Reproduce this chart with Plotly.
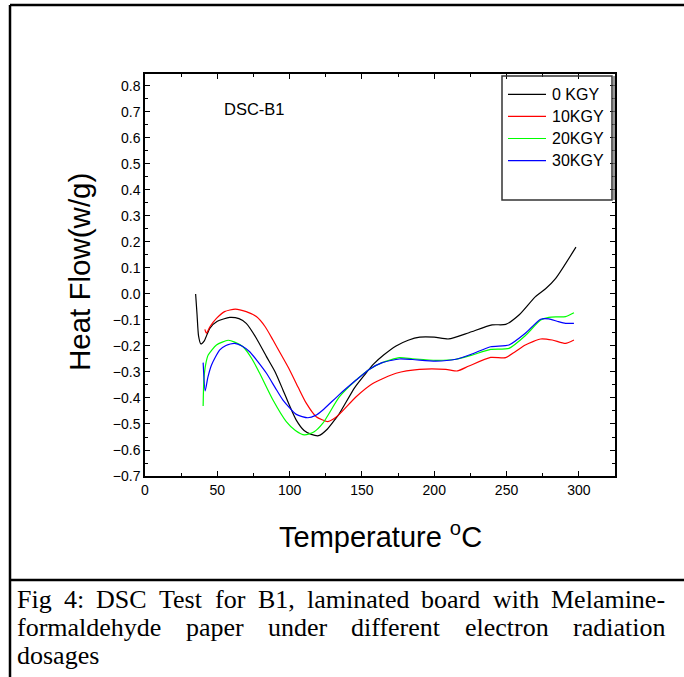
import plotly.graph_objects as go

# ---------------- data ----------------
series_names = ["0 KGY", "10KGY", "20KGY", "30KGY"]
series_colors = ["#000000", "#ff0000", "#00ff00", "#0000ff"]

temp_0 = [35, 36, 37, 38.6, 41, 44.8, 50, 58.6, 65, 70, 77, 84, 90, 95.4, 100, 104.6, 110, 115, 120,
          126, 132, 134.5, 145, 152, 158, 165, 173.6, 182, 190, 200, 210, 224, 240, 249.4, 258.6,
          270, 277, 284, 298]
flow_0 = [0.0, -0.08, -0.16, -0.192, -0.18, -0.132, -0.105, -0.09, -0.095, -0.113, -0.17, -0.241,
          -0.3, -0.369, -0.43, -0.485, -0.525, -0.54, -0.545, -0.52, -0.478, -0.459, -0.36, -0.31,
          -0.27, -0.235, -0.2, -0.178, -0.166, -0.166, -0.173, -0.149, -0.119, -0.117, -0.081,
          -0.01, 0.02, 0.06, 0.18]

temp_10 = [41.4, 42.5, 45, 49.4, 55, 62.5, 70, 77, 83, 88.5, 94, 100, 106, 111.5, 118.4, 126.4, 130,
           134.5, 146, 157.5, 173.6, 189.7, 208, 216, 224, 239, 249.4, 256, 263, 273.6, 281.6,
           290.8, 296.6]
flow_10 = [-0.136, -0.151, -0.125, -0.094, -0.068, -0.058, -0.068, -0.087, -0.125, -0.177, -0.232,
           -0.292, -0.36, -0.42, -0.472, -0.491, -0.482, -0.462, -0.395, -0.344, -0.305, -0.29,
           -0.29, -0.296, -0.277, -0.244, -0.245, -0.222, -0.196, -0.173, -0.177, -0.19, -0.177]

temp_20 = [40.2, 40.7, 42, 43.7, 49.4, 57.5, 62, 67.8, 74, 79.3, 88.5, 97.7, 104, 110.3, 117, 123,
           134.5, 146, 155, 164, 175.9, 185, 201, 215, 226, 239, 251.7, 263, 273.6, 279.3, 285,
           290.8, 296.6]
flow_20 = [-0.431, -0.331, -0.27, -0.235, -0.196, -0.178, -0.185, -0.203, -0.25, -0.305, -0.408,
           -0.491, -0.525, -0.542, -0.53, -0.497, -0.395, -0.331, -0.29, -0.264, -0.245, -0.249,
           -0.255, -0.251, -0.235, -0.213, -0.209, -0.16, -0.1, -0.09, -0.088, -0.087, -0.072]

temp_30 = [40.2, 41.6, 43.5, 46, 51.7, 56, 62, 67, 72.4, 78, 84, 90, 95.4, 104.6, 112.6, 118, 123,
           134.5, 146, 155, 164, 175.9, 185, 201, 215, 226, 239, 251.7, 263, 273.6, 279.3, 285,
           290.8, 296.6]
flow_30 = [-0.264, -0.373, -0.32, -0.273, -0.215, -0.198, -0.19, -0.2, -0.222, -0.26, -0.305, -0.36,
           -0.408, -0.463, -0.476, -0.467, -0.446, -0.386, -0.331, -0.29, -0.264, -0.25, -0.252,
           -0.258, -0.251, -0.231, -0.203, -0.196, -0.151, -0.097, -0.096, -0.105, -0.113, -0.113]

x_ticks = [0, 50, 100, 150, 200, 250, 300]
y_ticks = [-0.7, -0.6, -0.5, -0.4, -0.3, -0.2, -0.1, 0.0, 0.1, 0.2, 0.3, 0.4, 0.5, 0.6, 0.7, 0.8]

caption_lines = [
    "Fig 4: DSC Test for B1, laminated board with Melamine-",
    "formaldehyde paper under different electron radiation",
    "dosages",
]

# ---------------- layout geometry ----------------
W, H = 684, 677
L, R, T, B = 145, 615, 74, 476  # plot area in pixels


def px(x):
    return (x - L) / (R - L)


def py(y):
    return (B - y) / (B - T)


# Times / Liberation Serif advance widths (per 1000 em) for justification of the caption
SERIF_W = {"a": 444, "b": 500, "c": 444, "d": 500, "e": 444, "f": 333, "g": 500, "h": 500, "i": 278,
           "l": 278, "m": 778, "n": 500, "o": 500, "p": 500, "r": 333, "s": 389, "t": 278, "u": 500,
           "w": 722, "y": 500, "F": 556, "D": 722, "S": 556, "C": 667, "T": 611, "B": 667, "M": 889,
           "1": 500, "4": 500, ":": 278, ",": 250, "-": 333, " ": 250}


def word_width(w, size):
    return sum(SERIF_W.get(c, 500) for c in w) * size / 1000.0


fig = go.Figure()
all_t = [temp_0, temp_10, temp_20, temp_30]
all_f = [flow_0, flow_10, flow_20, flow_30]
for name, col, t, f in zip(series_names, series_colors, all_t, all_f):
    fig.add_trace(go.Scatter(x=t, y=f, mode="lines", name=name, showlegend=False,
                             line=dict(color=col, width=1.2, shape="spline", smoothing=0.6)))

axis_common = dict(showline=True, linecolor="black", linewidth=1.5, mirror="ticks",
                   ticks="inside", ticklen=5, tickwidth=1, tickcolor="black",
                   showgrid=False, zeroline=False,
                   tickfont=dict(family="Arial, Liberation Sans", size=14, color="black"))

fig.update_layout(
    width=W, height=H, autosize=False,
    margin=dict(l=L, r=W - R, t=T, b=H - B),
    paper_bgcolor="white", plot_bgcolor="white",
    xaxis=dict(range=[0, 325], tickvals=x_ticks,
               minor=dict(dtick=25, tick0=0, ticks="inside", ticklen=3, tickcolor="black"),
               **axis_common),
    yaxis=dict(range=[-0.7, 0.846], tickvals=y_ticks, tickformat=".1f",
               minor=dict(dtick=0.05, tick0=0, ticks="inside", ticklen=3, tickcolor="black"),
               **axis_common),
    showlegend=False,
)

shapes = []
ann = []
sans = "Arial, Liberation Sans"

# legend box (drawn like the original: box with key lines and labels)
shapes.append(dict(type="rect", xref="paper", yref="paper", x0=px(502), x1=px(612), y0=py(200), y1=py(76),
                   line=dict(color="#333333", width=1.5), fillcolor="rgba(0,0,0,0)"))
shapes.append(dict(type="line", xref="paper", yref="paper", x0=px(614), x1=px(614), y0=py(200), y1=py(76),
                   line=dict(color="#777777", width=1.5)))
for i, (name, col) in enumerate(zip(series_names, series_colors)):
    yy = 94.3 + 22.1 * i
    shapes.append(dict(type="line", xref="paper", yref="paper", x0=px(508), x1=px(546), y0=py(yy), y1=py(yy),
                       line=dict(color=col, width=1.2)))
    ann.append(dict(text=name, x=px(550), y=py(yy), xref="paper", yref="paper", xanchor="left",
                    yanchor="middle", showarrow=False, font=dict(family=sans, size=16, color="black")))

# outer frame
shapes.append(dict(type="line", xref="paper", yref="paper", x0=px(10), x1=px(10), y0=py(690), y1=py(5),
                   line=dict(color="black", width=2.5)))
shapes.append(dict(type="line", xref="paper", yref="paper", x0=px(10), x1=px(700), y0=py(5), y1=py(5),
                   line=dict(color="black", width=2.5)))
shapes.append(dict(type="line", xref="paper", yref="paper", x0=px(10), x1=px(700), y0=py(580), y1=py(580),
                   line=dict(color="black", width=2.5)))
fig.update_layout(shapes=shapes)

ann.append(dict(text="DSC-B1", x=px(222), y=py(109), xref="paper", yref="paper", xanchor="left",
                yanchor="middle", showarrow=False, font=dict(family=sans, size=16.5, color="black")))
ann.append(dict(text="Heat Flow(w/g)", x=px(79), y=py(272), xref="paper", yref="paper", textangle=-90,
                xanchor="center", yanchor="middle", showarrow=False,
                font=dict(family=sans, size=29.5, color="black")))
ann.append(dict(text="Temperature <sup>o</sup>C", x=px(380), y=py(535), xref="paper", yref="paper",
                xanchor="center", yanchor="middle", showarrow=False,
                font=dict(family=sans, size=29, color="black")))

# caption: justified lines (first two), last line left aligned
serif = "Liberation Serif, Times New Roman, serif"
cap_size = 26
cap_left, cap_right = 15, 663
line_y = [599, 627, 655]
for li, line in enumerate(caption_lines):
    words = line.split(" ")
    if li < len(caption_lines) - 1 and len(words) > 1:
        widths = [word_width(w, cap_size) for w in words]
        gap = (cap_right - cap_left - sum(widths)) / (len(words) - 1)
        xcur = cap_left
        for w, ww in zip(words, widths):
            ann.append(dict(text=w, x=px(xcur), y=py(line_y[li]), xref="paper", yref="paper",
                            xanchor="left", yanchor="middle", showarrow=False,
                            font=dict(family=serif, size=cap_size, color="black")))
            xcur += ww + gap
    else:
        ann.append(dict(text=line, x=px(cap_left), y=py(line_y[li]), xref="paper", yref="paper",
                        xanchor="left", yanchor="middle", showarrow=False,
                        font=dict(family=serif, size=cap_size, color="black")))
fig.update_layout(annotations=ann)

fig.write_html("out.html")
